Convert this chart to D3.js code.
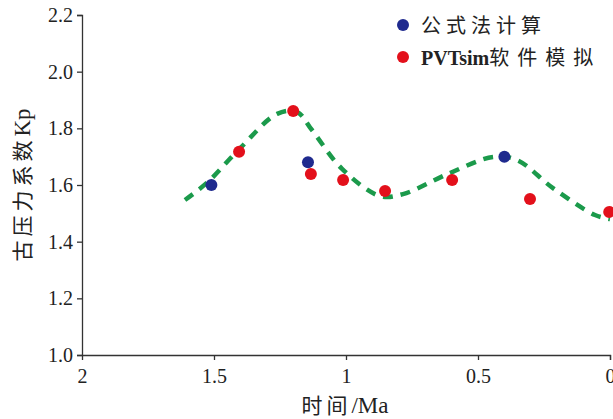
<!DOCTYPE html>
<html><head><meta charset="utf-8">
<script src="https://cdn.jsdelivr.net/npm/d3@7"></script>
<style>
body{margin:0;background:#fff;}
svg text{font-family:"Liberation Serif","Noto Sans CJK SC",serif;}
</style></head>
<body><svg id="c" width="613" height="419"></svg>
<script>
const xTicks = [2, 1.5, 1, 0.5, 0];
const xTickLabels = ["2", "1.5", "1", "0.5", "0"];
const yTicks = [1.0, 1.2, 1.4, 1.6, 1.8, 2.0, 2.2];
const formulaT = [1.51, 1.144, 0.40];
const formulaKp = [1.60, 1.68, 1.70];
const pvtT = [1.405, 1.20, 1.133, 1.011, 0.852, 0.598, 0.303, 0.003];
const pvtKp = [1.717, 1.861, 1.639, 1.618, 1.579, 1.618, 1.551, 1.505];
const trendT = [1.61, 1.523, 1.40, 1.261, 1.186, 1.129, 1.015, 0.871, 0.784, 0.614, 0.443, 0.352, 0.216, 0.057, 0.0];
const trendKp = [1.547, 1.611, 1.731, 1.851, 1.858, 1.794, 1.657, 1.561, 1.568, 1.639, 1.699, 1.688, 1.589, 1.494, 1.48];
const legendLabels = ["公式法计算", "PVTsim软件模拟"];

const svg = d3.select("#c");
const x = d3.scaleLinear().domain([2, 0]).range([82, 610]);
const y = d3.scaleLinear().domain([1.0, 2.2]).range([355, 15]);

// axes
const xAxis = svg.append("g").attr("transform", "translate(0,355)")
  .call(d3.axisBottom(x).tickValues(xTicks).tickFormat((d,i)=>xTickLabels[i]).tickSizeOuter(0).tickSize(5).tickPadding(9));
const yAxis = svg.append("g").attr("transform", "translate(82,0)")
  .call(d3.axisLeft(y).tickValues(yTicks).tickFormat(d3.format(".1f")).tickSizeOuter(0).tickSize(5).tickPadding(4));
[xAxis, yAxis].forEach(g => {
  g.selectAll("path,line").attr("stroke", "#333").attr("stroke-width", 1.3);
  g.selectAll("text").attr("fill", "#222").style("font-size", "20px").style("font-family", "Liberation Serif");
});
xAxis.select(".tick:first-of-type line").remove();

// trend line
const line = d3.line().x(d=>x(d[0])).y(d=>y(d[1])).curve(d3.curveCatmullRom.alpha(0.5));
svg.append("path").datum(trendT.map((t,i)=>[t, trendKp[i]]))
  .attr("d", line).attr("fill", "none").attr("stroke", "#1b9a4b")
  .attr("stroke-width", 4.5).attr("stroke-dasharray", "10,8");

// points
svg.append("g").selectAll("circle").data(formulaT.map((t,i)=>[t, formulaKp[i]])).join("circle")
  .attr("cx", d=>x(d[0])).attr("cy", d=>y(d[1])).attr("r", 6).attr("fill", "#1f2a8e");
svg.append("g").selectAll("circle").data(pvtT.map((t,i)=>[t, pvtKp[i]])).join("circle")
  .attr("cx", d=>x(d[0])).attr("cy", d=>y(d[1])).attr("r", 6).attr("fill", "#e3101b");

// legend
const colors = ["#1f2a8e", "#e3101b"];
const lg = svg.append("g");
legendLabels.forEach((l,i) => {
  lg.append("circle").attr("cx", 403).attr("cy", 25 + i*32).attr("r", 6).attr("fill", colors[i]);
  const t = lg.append("text").attr("x", 421).attr("y", 33 + i*32).attr("fill", "#222").style("font-size", "20px");
  if (i === 0) {
    t.append("tspan").text(l).style("font-family", "Noto Sans CJK SC").style("letter-spacing", "5px").style("font-size","20px");
  } else {
    t.append("tspan").text("PVTsim").style("font-weight", "bold").style("font-family", "Liberation Serif");
    t.append("tspan").text("软件模拟").style("font-family", "Noto Sans CJK SC").style("letter-spacing", "8px").style("font-size","20px");
  }
});

// axis titles
svg.append("text").attr("transform", "translate(30,185) rotate(-90)").attr("text-anchor", "middle")
  .attr("fill", "#222").style("font-size", "21px")
  .call(t => { t.append("tspan").text("古压力系数").style("font-family","Noto Sans CJK SC").style("letter-spacing","4px");
               t.append("tspan").text("Kp").style("font-family","Liberation Serif").style("font-size","23px"); });
svg.append("text").attr("x", 345).attr("y", 413).attr("text-anchor", "middle")
  .attr("fill", "#222").style("font-size", "21px")
  .call(t => { t.append("tspan").text("时间").style("font-family","Noto Sans CJK SC").style("letter-spacing","4px");
               t.append("tspan").text("/Ma").style("font-family","Liberation Serif").style("font-size","23px"); });
</script></body></html>
